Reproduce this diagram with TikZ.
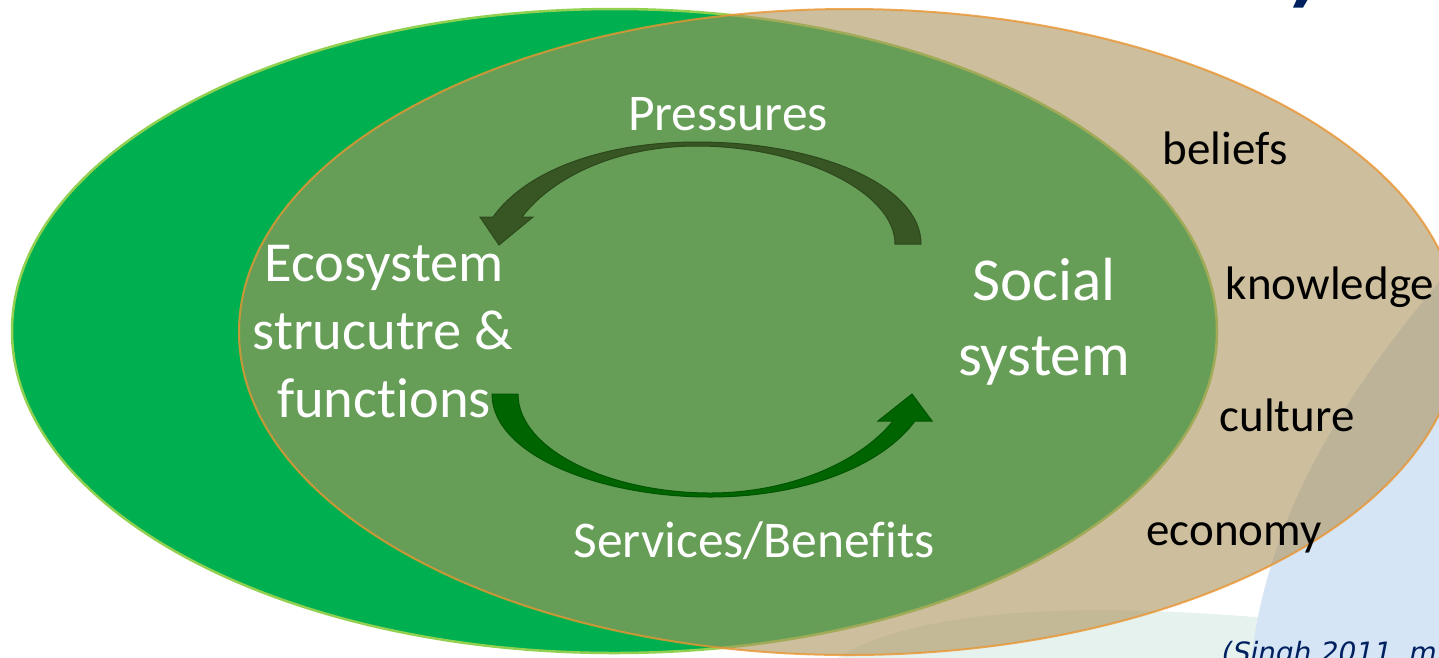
\documentclass[tikz,border=0pt]{standalone}
\usepackage{fontspec}
\setmainfont{Carlito}[Ligatures={NoCommon,NoRare}]
\newfontfamily\citefont[FakeSlant=0.2]{DejaVu Sans}
\definecolor{pgreen}{RGB}{0,176,80}
\definecolor{pgreenline}{RGB}{146,208,80}
\definecolor{ptan}{RGB}{172,147,93}
\definecolor{ptanline}{RGB}{234,149,49}
\definecolor{arrowtop}{RGB}{55,86,35}
\definecolor{arrowtopline}{RGB}{45,72,28}
\definecolor{arrowbot}{RGB}{0,100,0}
\definecolor{arrowbotline}{RGB}{0,85,0}
\definecolor{navy}{RGB}{0,32,96}
\definecolor{bgblue}{RGB}{213,229,245}
\definecolor{bgpale}{RGB}{230,242,238}
\begin{document}
\begin{tikzpicture}[x=1pt,y=-1pt,
  wlabel/.style={text=white, inner sep=0pt, anchor=base},
  blabel/.style={text=black, inner sep=0pt, anchor=base, font=\fontsize{47}{57}\selectfont},
  blockarrowtop/.style={fill=arrowtop, draw=arrowtopline, line width=1pt},
  blockarrowbot/.style={fill=arrowbot, draw=arrowbotline, line width=1pt}]
\useasboundingbox (0,0) rectangle (1439,657);
\begin{scope}
\clip (0,0) rectangle (1439,657);
\fill[white] (0,0) rectangle (1439,657);
% background shapes
\fill[bgpale] (820,670) .. controls (900,605) and (1100,590) .. (1460,640) -- (1460,670) -- cycle;
\fill[bgblue] (1439,282) .. controls (1340,400) and (1265,520) .. (1250,670) -- (1460,670) -- (1460,282) -- cycle;
% ellipses
\path[fill=pgreen, draw=pgreenline, line width=2.5pt] (614.5,331) ellipse [x radius=602.5pt, y radius=322pt];
\path[fill=ptan, fill opacity=0.6, draw=ptanline, draw opacity=0.8, line width=2pt] (849,332) ellipse [x radius=610pt, y radius=323pt];
% partial title glyph
\fill[navy] (1297,-1) -- (1308,-1) -- (1303,7.5) -- (1293,7.5) -- cycle;
% top arrow (Pressures)
\path[blockarrowtop] (895,244)
  .. controls (895,192) and (800,146) .. (697,146)
  .. controls (610,146) and (548,182) .. (522,217)
  -- (533,217) -- (499,245) -- (480,217) -- (493,217)
  .. controls (525,172) and (600,142) .. (697,142)
  .. controls (820,142) and (921,186) .. (921,244)
  -- cycle;
% bottom arrow (Services/Benefits)
\path[blockarrowbot] (492,394)
  .. controls (492,455) and (600,497) .. (710,497)
  .. controls (800,497) and (880,468) .. (915,421)
  -- (932,421) -- (912,394) -- (878,421) -- (893,421)
  .. controls (860,462) and (790,493) .. (710,493)
  .. controls (610,493) and (518,450) .. (518,394)
  -- cycle;
% white labels
\node[wlabel, font=\fontsize{51.5}{62}\selectfont] (pressures) at (728,130) {Pressures};
\node[wlabel, font=\fontsize{56.5}{68}\selectfont] (eco1) at (384,281) {Ecosystem};
\node[wlabel, font=\fontsize{56.5}{68}\selectfont] (eco2) at (383,349) {strucutre \&};
\node[wlabel, font=\fontsize{56.5}{68}\selectfont] (eco3) at (384,417) {functions};
\node[wlabel, font=\fontsize{61}{74}\selectfont] (soc1) at (1044,300) {Social};
\node[wlabel, font=\fontsize{61}{74}\selectfont] (soc2) at (1044,375) {system};
\node[wlabel, font=\fontsize{51.5}{62}\selectfont] (services) at (754,557) {Services/Benefits};
% black labels
\node[blabel] (beliefs) at (1225,164) {beliefs};
\node[blabel] (knowledge) at (1330,299) {knowledge};
\node[blabel] (culture) at (1287,431) {culture};
\node[blabel] (economy) at (1234,545) {economy};
% citation
\node[anchor=base west, inner sep=0pt, text=navy, font=\citefont\fontsize{28}{34}\selectfont] (cite) at (1220,662) {(Singh 2011, m};
\end{scope}
\end{tikzpicture}
\end{document}
